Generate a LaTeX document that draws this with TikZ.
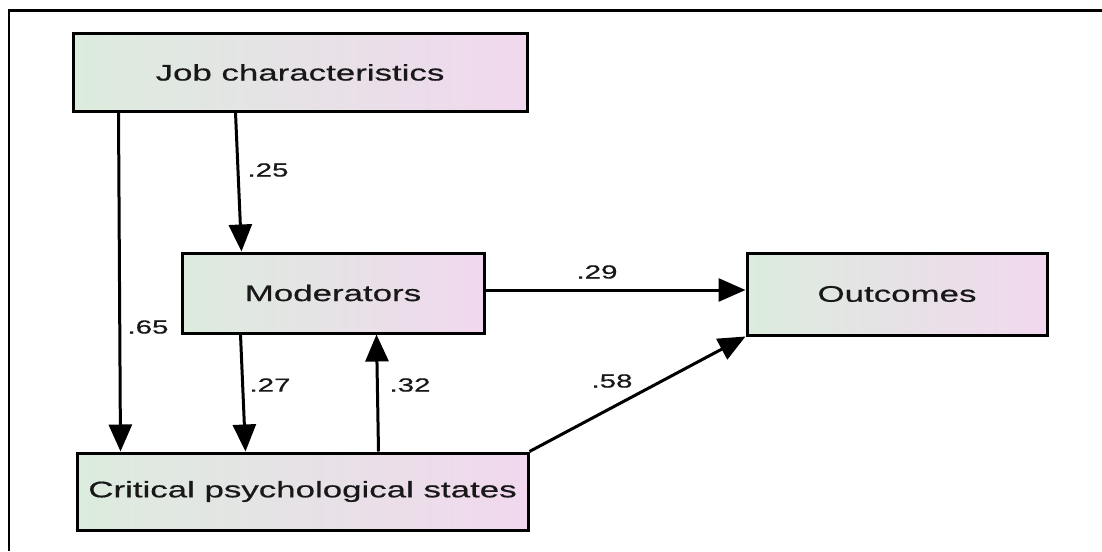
\documentclass[tikz,border=0pt]{standalone}
\usepackage{fontspec}
\newfontfamily\wf[FakeStretch=1.55,FakeBold=0.6]{Liberation Sans}
\usetikzlibrary{arrows.meta}
\definecolor{lgreen}{RGB}{220,236,222}
\definecolor{lgrey}{RGB}{233,231,234}
\definecolor{lpink}{RGB}{241,216,238}
\definecolor{txt}{RGB}{24,24,24}
\tikzset{
  box/.style={draw=black, line width=3pt, inner sep=0pt, left color=lgreen, middle color=lgrey, right color=lpink,
    font=\wf\fontsize{22.5}{27}\selectfont, text=txt},
  arr/.style={line width=3pt, -{Triangle[length=27pt,width=23pt]}},
  lbl/.style={font=\wf\fontsize{19}{22}\selectfont, text=txt, inner sep=0pt}
}
\begin{document}
\begin{tikzpicture}[x=1pt,y=-1pt]
\useasboundingbox[fill=white] (0,0) rectangle (1102,551);
\draw[line width=2.5pt] (9,551) -- (9,10.5) -- (1102,10.5);
\node[box, minimum width=454pt, minimum height=77pt] (job) at (300,72.5) {Job characteristics};
\node[box, minimum width=302pt, minimum height=80pt] (mod) at (333,293) {Moderators};
\node[box, minimum width=300pt, minimum height=82pt] (out) at (897,294) {Outcomes};
\node[box, minimum width=451pt, minimum height=77pt] (crit) at (302.5,491.5) {Critical psychological states};
\draw[arr] ([xshift=47pt]job.south west) -- ([xshift=45pt]crit.north west);
\draw[arr] ([xshift=164pt]job.south west) -- ([xshift=61pt]mod.north west);
\draw[arr] ([xshift=60pt]mod.south west) -- ([xshift=170pt]crit.north west);
\draw[arr] ([xshift=303pt]crit.north west) -- ([xshift=196pt]mod.south west);
\draw[arr] ([yshift=3pt]mod.east) -- ([yshift=3pt]mod.east -| out.west);
\draw[arr] (crit.north east) -- (out.south west);
\node[lbl] (l65) at (148,327) {.65};
\node[lbl] (l25) at (268,170) {.25};
\node[lbl] (l27) at (270,385) {.27};
\node[lbl] (l32) at (410,385) {.32};
\node[lbl] (l29) at (597,272) {.29};
\node[lbl] (l58) at (612,381) {.58};
\end{tikzpicture}
\end{document}
